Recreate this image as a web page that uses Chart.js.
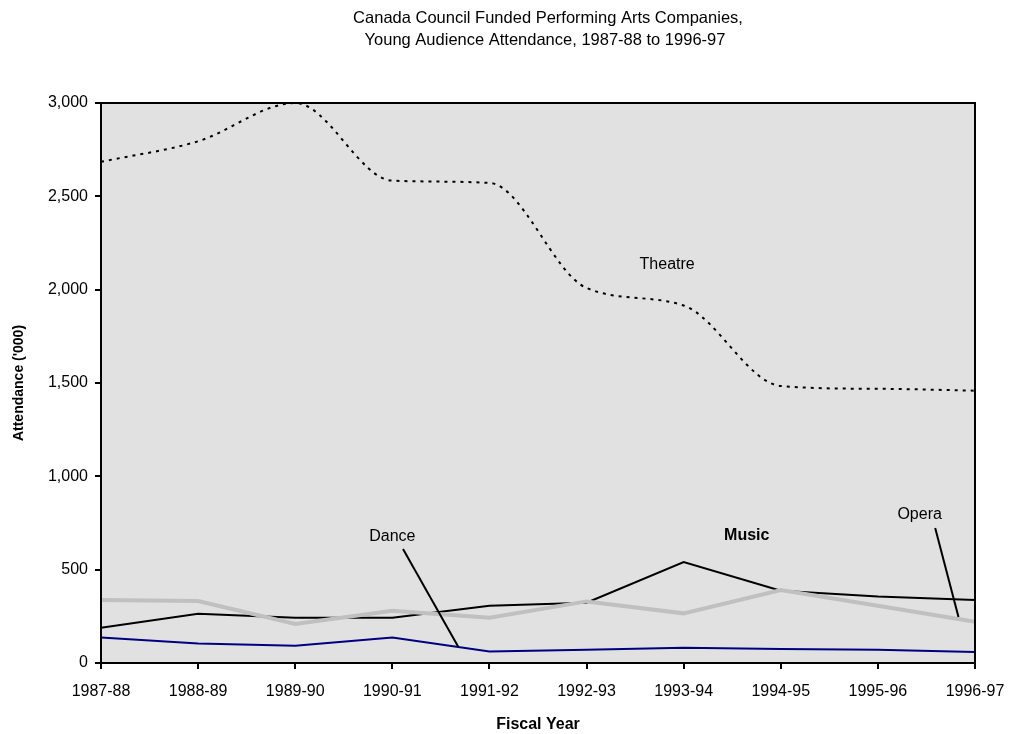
<!DOCTYPE html>
<html>
<head>
<meta charset="utf-8">
<script src="https://cdn.jsdelivr.net/npm/chart.js@4.4.1/dist/chart.umd.min.js"></script>
<style>
  html, body { margin: 0; padding: 0; background: #fff; }
  #wrap { width: 1010px; height: 734px; }
</style>
</head>
<body>
<div id="wrap"><canvas id="line-chartcanvas" width="1010" height="734"></canvas></div>
<script>
// fiscal years on the x axis
var years = ["1987-88", "1988-89", "1989-90", "1990-91", "1991-92", "1992-93", "1993-94", "1994-95", "1995-96", "1996-97"];

// attendance ('000)
var theatre = [2685, 2795, 3000, 2584, 2572, 2009, 1915, 1484, 1469, 1459];
var music   = [189, 264, 243, 243, 307, 323, 541, 387, 356, 337];
var opera   = [337, 332, 209, 280, 243, 330, 266, 391, 307, 221];
var dance   = [136, 104, 93, 136, 61, 71, 82, 75, 71, 59];

// y axis ticks
var yTicks = [0, 500, 1000, 1500, 2000, 2500, 3000];

var titleLines = ["Canada Council Funded Performing Arts Companies,", "Young Audience Attendance, 1987-88 to 1996-97"];

var FONT = "'Liberation Sans', Arial, sans-serif";

// text labels placed in data coordinates (x = category index, y = value)
var labels = [
	{ text: "Theatre", x: 5.83, y: 2132, bold: false },
	{ text: "Dance",   x: 3.0,  y: 675,  bold: false },
	{ text: "Music",   x: 6.65, y: 685,  bold: true },
	{ text: "Opera",   x: 8.43, y: 793,  bold: false }
];
var leaders = [
	{ from: [3.11, 611], to: [3.68, 86] },
	{ from: [8.59, 723], to: [8.83, 246] }
];

var plotFrame = {
	id: "plotFrame",
	beforeDraw: function(chart) {
		var a = chart.chartArea, ctx = chart.ctx;
		ctx.save();
		ctx.fillStyle = "#e1e1e1";
		ctx.fillRect(a.left, a.top, a.right - a.left, a.bottom - a.top);

		// title, centred a little right of the plot middle like the original
		ctx.fillStyle = "#000";
		ctx.textAlign = "center";
		ctx.textBaseline = "middle";
		ctx.font = "16.5px " + FONT;
		ctx.fillText(titleLines[0], 548, 18);
		ctx.fillText(titleLines[1], 545, 40);
		ctx.restore();
	},
	afterDraw: function(chart) {
		var a = chart.chartArea, ctx = chart.ctx;
		var xs = chart.scales.x, ys = chart.scales.y;
		ctx.save();
		ctx.strokeStyle = "#000";
		ctx.lineWidth = 2;
		ctx.strokeRect(a.left, a.top, a.right - a.left, a.bottom - a.top);

		// leader lines
		leaders.forEach(function(l) {
			ctx.beginPath();
			ctx.moveTo(xs.getPixelForValue(l.from[0]), ys.getPixelForValue(l.from[1]));
			ctx.lineTo(xs.getPixelForValue(l.to[0]), ys.getPixelForValue(l.to[1]));
			ctx.stroke();
		});

		// labels
		ctx.fillStyle = "#000";
		ctx.textAlign = "center";
		ctx.textBaseline = "middle";
		labels.forEach(function(t) {
			ctx.font = (t.bold ? "bold " : "") + "16px " + FONT;
			ctx.fillText(t.text, xs.getPixelForValue(t.x), ys.getPixelForValue(t.y));
		});
		ctx.restore();
	}
};

var data = {
	labels: years,
	datasets: [
		{
			label: "Theatre",
			data: theatre,
			borderColor: "#000",
			borderWidth: 2,
			borderDash: [3, 5],
			cubicInterpolationMode: "monotone",
			pointRadius: 0,
			fill: false
		},
		{
			label: "Opera",
			data: opera,
			borderColor: "#c0c0c0",
			borderWidth: 4,
			tension: 0,
			pointRadius: 0,
			fill: false
		},
		{
			label: "Music",
			data: music,
			borderColor: "#000",
			borderWidth: 2,
			tension: 0,
			pointRadius: 0,
			fill: false
		},
		{
			label: "Dance",
			data: dance,
			borderColor: "#000080",
			borderWidth: 2,
			tension: 0,
			pointRadius: 0,
			fill: false
		}
	]
};

var options = {
	responsive: false,
	animation: false,
	layout: { padding: { left: 0, right: 35, top: 103, bottom: 0 } },
	plugins: {
		legend: { display: false },
		tooltip: { enabled: false },
		title: { display: false }
	},
	scales: {
		x: {
			type: "category",
			offset: false,
			grid: {
				offset: false,
				drawOnChartArea: false,
				drawTicks: true,
				tickLength: 6,
				color: "#000",
				lineWidth: 2
			},
			border: { color: "#000", width: 2 },
			ticks: {
				color: "#000",
				font: { family: FONT, size: 16 },
				padding: 13,
				maxRotation: 0,
				autoSkip: false
			},
			title: {
				display: true,
				text: "Fiscal Year",
				color: "#000",
				font: { family: FONT, size: 16, weight: "bold" },
				padding: { top: 0, bottom: 0 }
			},
			afterFit: function(scale) {
				scale.height = 71;
				scale.paddingLeft = 0;
				scale.paddingRight = 0;
			}
		},
		y: {
			min: 0,
			max: 3000,
			grid: {
				drawOnChartArea: false,
				drawTicks: true,
				tickLength: 6,
				color: "#000",
				lineWidth: 2
			},
			border: { color: "#000", width: 2 },
			afterBuildTicks: function(scale) {
				scale.ticks = yTicks.map(function(v) { return { value: v }; });
			},
			ticks: {
				color: "#000",
				font: { family: FONT, size: 16 },
				padding: 7,
				callback: function(v) { return Number(v).toLocaleString("en-US"); }
			},
			title: {
				display: true,
				text: "Attendance ('000)",
				color: "#000",
				font: { family: FONT, size: 14, weight: "bold" },
				padding: { top: 11, bottom: 0 }
			},
			afterFit: function(scale) {
				scale.width = 101;
				scale.paddingTop = 0;
				scale.paddingBottom = 0;
			}
		}
	}
};

var ctx = document.getElementById("line-chartcanvas");
var chart = new Chart(ctx, {
	type: "line",
	data: data,
	options: options,
	plugins: [plotFrame]
});
</script>
</body>
</html>
